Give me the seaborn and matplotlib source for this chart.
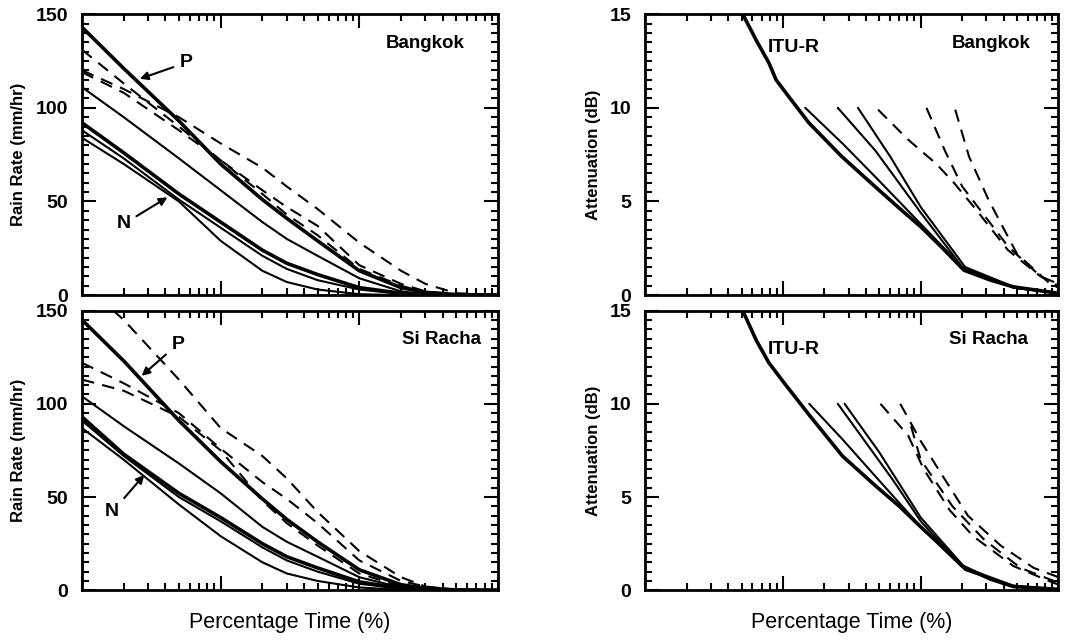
import numpy as np
import pandas as pd
import matplotlib.pyplot as plt
import seaborn as sns
from matplotlib.ticker import MultipleLocator, LogLocator, NullFormatter

# percentage time grid used by the rain rate curves
pct = [0.001, 0.002, 0.005, 0.01, 0.02, 0.03, 0.05, 0.1, 0.2, 0.3, 0.5, 1.0]

# Bangkok rain rate (mm/hr)
bkk_p = [143, 121, 93, 70, 51, 41, 29, 13, 4, 1.5, 0.3, 0]
bkk_s2 = [111, 95, 73, 56, 39, 30, 21, 9, 2, 0.5, 0, 0]
bkk_n = [92, 76, 54, 39, 24, 17, 11, 4, 1, 0.3, 0, 0]
bkk_s4 = [88, 73, 51, 36, 21, 14, 8, 3, 0.7, 0.2, 0, 0]
bkk_s5 = [84, 70, 50, 29, 13, 7, 3, 0.5, 0, 0, 0, 0]
bkk_d1 = [131, 113, 90, 72, 54, 43, 32, 14, 5, 1.5, 0.3, 0]
bkk_d2 = [119, 108, 88, 72, 56, 47, 37, 16, 6, 2, 0.3, 0]
bkk_d3 = [120, 110, 95, 81, 68, 58, 46, 28, 13, 6, 1, 0]

# Si Racha rain rate (mm/hr)
sr_p = [145, 123, 91, 69, 49, 38, 26, 11, 3, 1, 0.2, 0]
sr_s2 = [104, 88, 68, 52, 34, 26, 18, 7, 1.5, 0.4, 0, 0]
sr_n = [93, 73, 52, 39, 25, 18, 12, 4.5, 1, 0.3, 0, 0]
sr_s4 = [91, 72, 50, 37, 23, 16, 10, 3.5, 0.8, 0.2, 0, 0]
sr_s5 = [87, 70, 46, 29, 15, 9, 5, 1.5, 0.2, 0, 0, 0]
sr_d1 = [165, 145, 113, 87, 72, 60, 42, 21, 7, 2, 0.3, 0]
sr_d2 = [122, 111, 95, 76, 58, 49, 36, 16, 5, 2, 0.3, 0]
sr_d3 = [113, 107, 93, 75, 48, 36, 24, 9, 2, 0.5, 0, 0]

# Bangkok attenuation (dB)
bkk_itu_x = [0.004, 0.0051, 0.0064, 0.0079, 0.0089, 0.011, 0.0154, 0.0267, 0.0465,
             0.0684, 0.1, 0.14, 0.206, 0.321, 0.472, 1.0]
bkk_itu_y = [17, 15, 13.6, 12.4, 11.5, 10.6, 9.2, 7.4, 5.8, 4.7, 3.65, 2.6, 1.33,
             0.8, 0.44, 0.1]
bkk_a1_x = [0.0145, 0.027, 0.047, 0.1, 0.2, 0.47, 1.0]
bkk_a1_y = [10, 8.1, 6.3, 3.8, 1.5, 0.4, 0.1]
bkk_a2_x = [0.025, 0.047, 0.1, 0.2, 0.47, 1.0]
bkk_a2_y = [10, 7.7, 4.4, 1.5, 0.4, 0.1]
bkk_a3_x = [0.035, 0.06, 0.1, 0.21, 0.47, 1.0]
bkk_a3_y = [10, 7.4, 4.7, 1.5, 0.45, 0.1]
bkk_a4_x = [0.049, 0.081, 0.13, 0.174, 0.25, 0.43, 0.74, 1.0]
bkk_a4_y = [9.9, 8.3, 7.0, 6.0, 4.6, 2.4, 1.0, 0.5]
bkk_a5_x = [0.11, 0.15, 0.2, 0.43, 0.74, 1.0]
bkk_a5_y = [10, 7.7, 5.8, 2.6, 1.0, 0.6]
bkk_a6_x = [0.178, 0.224, 0.31, 0.5, 0.87, 1.0]
bkk_a6_y = [9.9, 7.4, 5.1, 2.2, 0.6, 0.4]

# Si Racha attenuation (dB)
sr_itu_x = [0.004, 0.0051, 0.0064, 0.0079, 0.01, 0.0155, 0.027, 0.047, 0.07, 0.1,
            0.14, 0.2, 0.32, 0.47, 1.0]
sr_itu_y = [17, 15, 13.4, 12.2, 11.2, 9.4, 7.2, 5.6, 4.5, 3.4, 2.4, 1.3, 0.6, 0.2, 0.05]
sr_a1_x = [0.0155, 0.027, 0.047, 0.1, 0.21, 0.47, 1.0]
sr_a1_y = [10, 8.1, 6.1, 3.4, 1.1, 0.2, 0.05]
sr_a2_x = [0.025, 0.047, 0.063, 0.1, 0.21, 0.47, 1.0]
sr_a2_y = [10, 7.2, 5.9, 3.7, 1.1, 0.2, 0.05]
sr_a3_x = [0.028, 0.05, 0.1, 0.21, 0.47, 1.0]
sr_a3_y = [10, 7.4, 3.9, 1.2, 0.25, 0.05]
sr_a4_x = [0.051, 0.081, 0.105, 0.162, 0.24, 0.47, 0.79, 1.0]
sr_a4_y = [10, 8.3, 6.5, 4.3, 2.9, 1.3, 0.6, 0.3]
sr_a5_x = [0.071, 0.1, 0.148, 0.22, 0.38, 0.66, 1.0]
sr_a5_y = [10, 8.0, 6.0, 4.0, 2.4, 1.2, 0.7]
sr_a6_x = [0.085, 0.1, 0.17, 0.29, 0.53, 1.0]
sr_a6_y = [8.8, 7.0, 4.5, 2.7, 1.2, 0.4]

sns.set_style("ticks", {"axes.edgecolor": "black", "text.color": "black",
                        "axes.labelcolor": "black", "xtick.color": "black",
                        "ytick.color": "black"})
plt.rcParams['font.family'] = ['Liberation Sans', 'DejaVu Sans']

fig = plt.figure(figsize=(10.79, 6.43), dpi=100)
ax_tl = fig.add_axes([0.076, 0.541, 0.3855, 0.437])
ax_bl = fig.add_axes([0.076, 0.082, 0.3855, 0.435])
ax_tr = fig.add_axes([0.598, 0.541, 0.383, 0.437])
ax_br = fig.add_axes([0.598, 0.082, 0.383, 0.435])


def curve(ax, x, y, dashed=False, thick=False):
    d = pd.DataFrame({"x": x, "y": y})
    sns.lineplot(data=d, x="x", y="y", ax=ax, color="black",
                 lw=2.6 if thick else 1.5, sort=False, estimator=None,
                 linestyle=(0, (6, 4)) if dashed else "-")


def style(ax, ymax, major, minor, ylabel, lab_x, place, place_x):
    ax.set_xscale("log")
    ax.set_xlim(0.001, 1)
    ax.set_ylim(0, ymax)
    ax.xaxis.set_major_locator(LogLocator(base=10))
    ax.xaxis.set_minor_locator(LogLocator(base=10, subs=np.arange(2, 10)))
    ax.xaxis.set_major_formatter(NullFormatter())
    ax.xaxis.set_minor_formatter(NullFormatter())
    ax.yaxis.set_major_locator(MultipleLocator(major))
    ax.yaxis.set_minor_locator(MultipleLocator(minor))
    ax.tick_params(which="both", direction="in", top=True, right=True, width=1.5,
                   color="black", labelcolor="black")
    ax.tick_params(which="major", length=10, labelsize=14, pad=10)
    ax.tick_params(which="minor", length=5)
    for lab in ax.get_yticklabels():
        lab.set_fontweight("bold")
    for s in ax.spines.values():
        s.set_linewidth(2)
        s.set_color("black")
    ax.set_xlabel("")
    ax.set_ylabel(ylabel, fontsize=12, fontweight="bold", color="black")
    ax.yaxis.set_label_coords(lab_x, 0.5)
    ax.text(place_x, 0.895, place, transform=ax.transAxes, ha="right", va="center",
            fontsize=13.5, fontweight="bold", color="black")


# rain rate panels
for ax, p, s2, n, s4, s5, d1, d2, d3 in [
        (ax_tl, bkk_p, bkk_s2, bkk_n, bkk_s4, bkk_s5, bkk_d1, bkk_d2, bkk_d3),
        (ax_bl, sr_p, sr_s2, sr_n, sr_s4, sr_s5, sr_d1, sr_d2, sr_d3)]:
    curve(ax, pct, p, thick=True)
    curve(ax, pct, s2)
    curve(ax, pct, n, thick=True)
    curve(ax, pct, s4)
    curve(ax, pct, s5)
    curve(ax, pct, d1, dashed=True)
    curve(ax, pct, d2, dashed=True)
    curve(ax, pct, d3, dashed=True)

style(ax_tl, 150, 50, 5, "Rain Rate (mm/hr)", -0.135, "Bangkok", 0.92)
style(ax_bl, 150, 50, 5, "Rain Rate (mm/hr)", -0.135, "Si Racha", 0.96)

arrow = dict(arrowstyle="-|>", color="black", lw=1.5, mutation_scale=12)
ax_tl.annotate("P", xy=(0.0025, 115), xytext=(0.0056, 124), fontsize=14,
               fontweight="bold", ha="center", va="center", arrowprops=arrow)
ax_tl.annotate("N", xy=(0.0043, 53), xytext=(0.002, 38), fontsize=14,
               fontweight="bold", ha="center", va="center", arrowprops=arrow)
ax_bl.annotate("P", xy=(0.0026, 114), xytext=(0.0049, 132), fontsize=14,
               fontweight="bold", ha="center", va="center", arrowprops=arrow)
ax_bl.annotate("N", xy=(0.0029, 63), xytext=(0.00165, 42), fontsize=14,
               fontweight="bold", ha="center", va="center", arrowprops=arrow)

# attenuation panels
for ax, series in [
        (ax_tr, [(bkk_itu_x, bkk_itu_y, False, True), (bkk_a1_x, bkk_a1_y, False, False),
                 (bkk_a2_x, bkk_a2_y, False, False), (bkk_a3_x, bkk_a3_y, False, False),
                 (bkk_a4_x, bkk_a4_y, True, False), (bkk_a5_x, bkk_a5_y, True, False),
                 (bkk_a6_x, bkk_a6_y, True, False)]),
        (ax_br, [(sr_itu_x, sr_itu_y, False, True), (sr_a1_x, sr_a1_y, False, False),
                 (sr_a2_x, sr_a2_y, False, False), (sr_a3_x, sr_a3_y, False, False),
                 (sr_a4_x, sr_a4_y, True, False), (sr_a5_x, sr_a5_y, True, False),
                 (sr_a6_x, sr_a6_y, True, False)])]:
    for x, y, dashed, thick in series:
        curve(ax, x, y, dashed=dashed, thick=thick)

style(ax_tr, 15, 5, 0.5, "Attenuation (dB)", -0.107, "Bangkok", 0.932)
style(ax_br, 15, 5, 0.5, "Attenuation (dB)", -0.107, "Si Racha", 0.925)
ax_tr.text(0.0078, 13.2, "ITU-R", fontsize=14, fontweight="bold", va="center")
ax_br.text(0.0078, 12.9, "ITU-R", fontsize=14, fontweight="bold", va="center")

ax_bl.set_xlabel("Percentage Time (%)", fontsize=15.5, labelpad=6, color="black")
ax_br.set_xlabel("Percentage Time (%)", fontsize=15.5, labelpad=6, color="black")

fig.savefig("out.png", dpi=100)
